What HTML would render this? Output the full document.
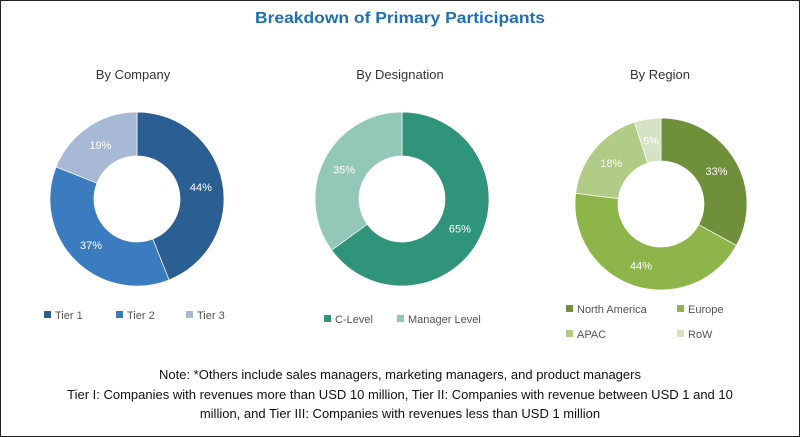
<!DOCTYPE html>
<html><head><meta charset="utf-8"><style>
html,body{margin:0;padding:0;background:#fff}
body{width:800px;height:437px;overflow:hidden}
#c{position:absolute;left:0;top:0;width:798px;height:435px;border:1px solid #222}
text{font-family:"Liberation Sans",sans-serif}
</style></head><body>
<div id="c"></div>
<svg id="s" width="800" height="437" style="position:absolute;left:0;top:0">
<text x="400" y="23" text-anchor="middle" font-size="16" font-weight="bold" fill="#1f6fb5" textLength="290" lengthAdjust="spacingAndGlyphs">Breakdown of Primary Participants</text>
<text x="133" y="79" text-anchor="middle" font-size="13" fill="#333">By Company</text>
<text x="400" y="79" text-anchor="middle" font-size="13" fill="#333">By Designation</text>
<text x="660" y="79" text-anchor="middle" font-size="13" fill="#333">By Region</text>
<g id="g"></g>
<g font-size="11" fill="#555">
<rect x="44" y="311" width="7" height="7" fill="#2b5f93"/><text x="55" y="319">Tier 1</text>
<rect x="116" y="311" width="7" height="7" fill="#3b7cc0"/><text x="127" y="319">Tier 2</text>
<rect x="186" y="311" width="7" height="7" fill="#a8b9d6"/><text x="197" y="319">Tier 3</text>
<rect x="324" y="315" width="7" height="7" fill="#2f947a"/><text x="335" y="323">C-Level</text>
<rect x="397" y="315" width="7" height="7" fill="#93c8b8"/><text x="408" y="323">Manager Level</text>
<rect x="566" y="305" width="7" height="7" fill="#6f8f3a"/><text x="577" y="313">North America</text>
<rect x="677" y="305" width="7" height="7" fill="#8db54a"/><text x="688" y="313">Europe</text>
<rect x="566" y="330" width="7" height="7" fill="#b0cc86"/><text x="577" y="338">APAC</text>
<rect x="677" y="330" width="7" height="7" fill="#d6e2c4"/><text x="688" y="338">RoW</text>
</g>
<g font-size="13" fill="#111" text-anchor="middle">
<text x="400" y="379">Note: *Others include sales managers, marketing managers, and product managers</text>
<text x="400" y="399">Tier I: Companies with revenues more than USD 10 million, Tier II: Companies with revenue between USD 1 and 10</text>
<text x="400" y="418">million, and Tier III: Companies with revenues less than USD 1 million</text>
</g>
</svg>
<script>
var g=document.getElementById('g'),NS='http://www.w3.org/2000/svg';
function donut(cx,cy,R,r,data){var a=0;data.forEach(function(d){var a0=a*2*Math.PI/100,a1=(a+d[0])*2*Math.PI/100;a+=d[0];
function p(rr,t){return [cx+rr*Math.sin(t),cy-rr*Math.cos(t)]}
var L=(a1-a0)>Math.PI?1:0,o0=p(R,a0),o1=p(R,a1),i1=p(r,a1),i0=p(r,a0);
var e=document.createElementNS(NS,'path');
e.setAttribute('d','M'+o0+'A'+R+','+R+' 0 '+L+' 1 '+o1+'L'+i1+'A'+r+','+r+' 0 '+L+' 0 '+i0+'Z');
e.setAttribute('fill',d[1]);e.setAttribute('stroke','#fff');e.setAttribute('stroke-width','0.7');g.appendChild(e);
var m=(a0+a1)/2,q=p((R+r)/2,m),t=document.createElementNS(NS,'text');
t.setAttribute('x',q[0]);t.setAttribute('y',q[1]+4);t.setAttribute('text-anchor','middle');t.setAttribute('font-size','11');t.setAttribute('fill','#fff');
t.textContent=d[0]+'%';g.appendChild(t);});}
donut(137,199,87,43,[[44,'#2b5f93'],[37,'#3b7cc0'],[19,'#a8b9d6']]);
donut(402,199,87,43,[[65,'#2f947a'],[35,'#93c8b8']]);
donut(661,204,86,43,[[33,'#6f8f3a'],[44,'#8db54a'],[18,'#b0cc86'],[5,'#d6e2c4']]);
</script>
</body></html>
